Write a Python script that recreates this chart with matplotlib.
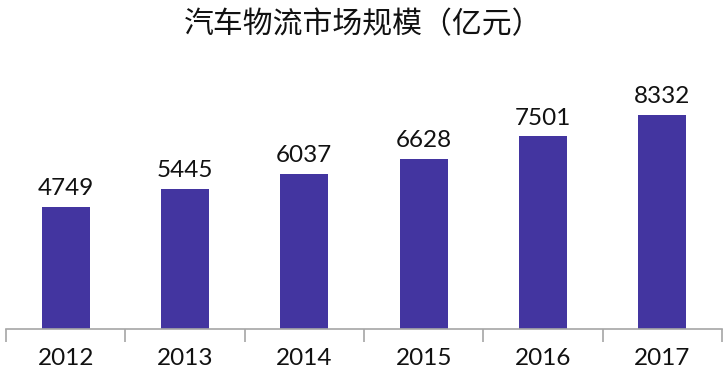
import matplotlib.pyplot as plt
import numpy as np

plt.rcParams['font.family'] = ['Noto Sans CJK SC', 'DejaVu Sans']

years = ['2012', '2013', '2014', '2015', '2016', '2017']
values = [4749, 5445, 6037, 6628, 7501, 8332]
title = '汽车物流市场规模（亿元）'

fig = plt.figure(figsize=(7.27, 3.77), dpi=100)
ax = fig.add_axes([6 / 727, 1 - 329 / 377, 716 / 727, 257 / 377])

x = np.arange(len(years))
ax.bar(x, values, width=0.4, color='#4335a0')
for xi, v in zip(x, values):
    ax.text(xi, v + 300, str(v), ha='center', va='bottom', fontsize=17.5,
            family=['Lato', 'DejaVu Sans'], color='#111111')

ax.set_xlim(-0.5, len(years) - 0.5)
ax.set_ylim(0, 10000)
ax.set_yticks([])
for s in ['top', 'right', 'left']:
    ax.spines[s].set_visible(False)
ax.spines['bottom'].set_color('#a6a6a6')
ax.spines['bottom'].set_linewidth(1.2)

# boundary ticks between categories
ax.set_xticks(np.arange(len(years) + 1) - 0.5)
ax.set_xticklabels([])
ax.tick_params(axis='x', which='major', length=9, color='#a6a6a6', width=1.2)
ax.set_xticks(x, minor=True)
ax.set_xticklabels(years, minor=True, fontsize=17.5, family=['Lato', 'DejaVu Sans'])
ax.tick_params(axis='x', which='minor', length=0, pad=14, labelcolor='#111111')

fig.text(0.5, 1 - 25 / 377, title, ha='center', va='center', fontsize=21.5, color='#111111')

plt.savefig('out.png', dpi=100)
